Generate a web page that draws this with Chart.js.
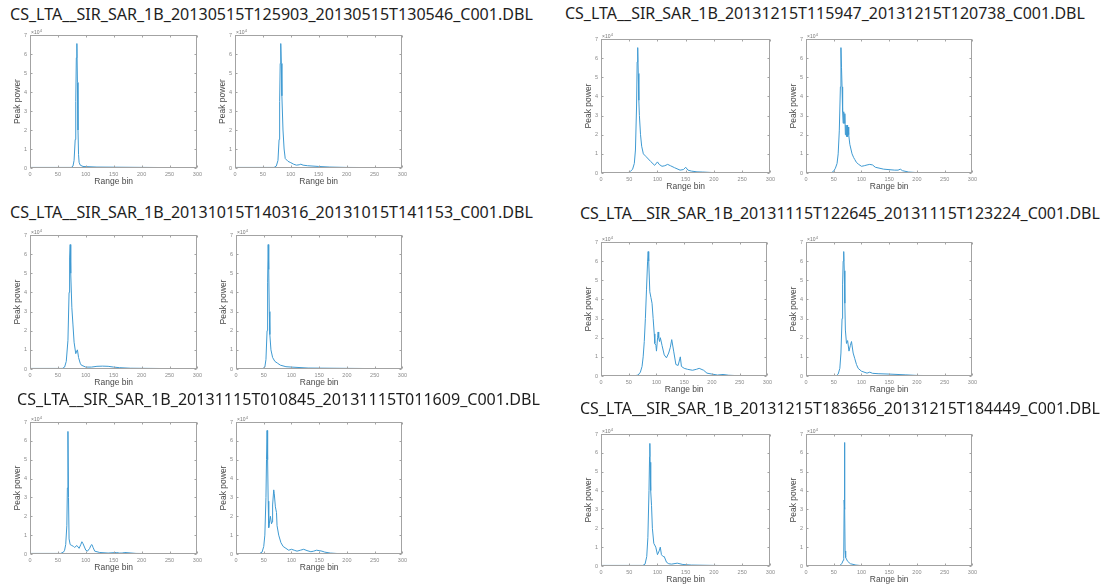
<!DOCTYPE html>
<html>
<head>
<meta charset="utf-8">
<script src="https://cdn.jsdelivr.net/npm/chart.js@4"></script>
<style>
  html, body { margin: 0; padding: 0; background: #fff; }
  #page { position: relative; width: 1104px; height: 588px; overflow: hidden; }
  canvas { position: absolute; }
  .titulo { position: absolute; white-space: nowrap; font-family: "Noto Sans", "Open Sans", sans-serif; color: #1e1e1e; line-height: 1; }
</style>
</head>
<body>
<div id="page"></div>
<script>
// ---- ticks ----
const xTicks = [0, 50, 100, 150, 200, 250, 300];
const yTicks = [0, 1, 2, 3, 4, 5, 6, 7];

// ---- titles ----
const titulos = [
  'CS_LTA__SIR_SAR_1B_20130515T125903_20130515T130546_C001.DBL',
  'CS_LTA__SIR_SAR_1B_20131215T115947_20131215T120738_C001.DBL',
  'CS_LTA__SIR_SAR_1B_20131015T140316_20131015T141153_C001.DBL',
  'CS_LTA__SIR_SAR_1B_20131115T122645_20131115T123224_C001.DBL',
  'CS_LTA__SIR_SAR_1B_20131115T010845_20131115T011609_C001.DBL',
  'CS_LTA__SIR_SAR_1B_20131215T183656_20131215T184449_C001.DBL'
];

// ---- waveforms (range bin / peak power x10^4) ----
const binA1 = [1, 74, 77, 79, 81, 82, 83, 84, 85, 86, 87, 88, 90, 95, 120, 256];
const powA1 = [0.03, 0.03, 0.1, 0.4, 1.5, 3.5, 5.8, 6.55, 4.5, 2, 0.7, 0.3, 0.15, 0.08, 0.05, 0.02];

const binA2 = [1, 70, 74, 77, 79, 80, 81, 82, 83, 84, 86, 88, 90, 95, 100, 105, 110, 115, 118, 122, 130, 150, 170, 200, 256];
const powA2 = [0.03, 0.03, 0.1, 0.4, 1.5, 3.5, 5.5, 6.55, 5.5, 3.8, 2, 1, 0.5, 0.35, 0.28, 0.2, 0.15, 0.17, 0.2, 0.15, 0.12, 0.08, 0.05, 0.03, 0.02];

const binB1 = [1, 48, 52, 56, 59, 61, 63, 64, 65, 66, 67, 68, 70, 72, 75, 80, 88, 95, 100, 103, 108, 113, 118, 123, 130, 140, 146, 150, 154, 160, 170, 180, 200, 256];
const powB1 = [0.02, 0.02, 0.08, 0.2, 0.5, 1.2, 3.5, 5.8, 6.55, 5.2, 3.8, 3.0, 2.0, 1.4, 1.0, 0.85, 0.6, 0.4, 0.58, 0.45, 0.35, 0.38, 0.45, 0.38, 0.28, 0.15, 0.18, 0.3, 0.15, 0.1, 0.06, 0.05, 0.02, 0.01];

const binB2 = [1, 46, 50, 53, 56, 58, 60, 62, 63, 64, 65, 66, 67, 68, 69, 70, 71, 72, 73, 74, 75, 76, 77, 79, 83, 86, 88, 91, 95, 100, 105, 110, 115, 120, 125, 140, 160, 166, 170, 174, 185, 200, 256];
const powB2 = [0.02, 0.02, 0.1, 0.25, 0.5, 1.0, 2.2, 4.5, 6.55, 5.5, 4.5, 3.2, 2.6, 3.2, 2.6, 3.1, 2.0, 2.5, 1.9, 2.5, 1.9, 2.4, 2.0, 1.5, 1.0, 0.8, 0.7, 0.55, 0.45, 0.35, 0.38, 0.42, 0.45, 0.42, 0.3, 0.2, 0.15, 0.15, 0.2, 0.12, 0.05, 0.02, 0.01];

const binC1 = [1, 58, 62, 65, 68, 70, 71, 72, 73, 75, 77, 79, 82, 84, 85, 87, 90, 92, 100, 110, 120, 130, 140, 150, 160, 180, 256];
const powC1 = [0.03, 0.03, 0.1, 0.4, 1.5, 4.0, 5.8, 6.5, 5.0, 3.2, 2.3, 1.4, 0.8, 0.95, 1.0, 0.6, 0.3, 0.2, 0.1, 0.1, 0.14, 0.15, 0.14, 0.1, 0.07, 0.04, 0.02];

const binC2 = [1, 48, 52, 54, 56, 57, 58, 59, 60, 61, 63, 66, 70, 75, 80, 90, 100, 130, 256];
const powC2 = [0.02, 0.02, 0.1, 0.5, 2.0, 4.5, 6.5, 5.2, 3.0, 1.8, 1.0, 0.6, 0.4, 0.3, 0.2, 0.12, 0.1, 0.05, 0.02];

const binD1 = [1, 62, 67, 71, 74, 76, 78, 80, 82, 84, 85, 86, 88, 90, 92, 94, 96, 97, 99, 100, 102, 103, 104, 105.5, 107, 110, 114, 118, 122, 125, 127.5, 131, 135, 139, 143, 145, 150, 156, 165, 172, 177, 185, 191, 200, 210, 220, 230, 245, 256];
const powD1 = [0.02, 0.02, 0.05, 0.2, 0.5, 1.0, 1.8, 3.0, 4.5, 6.0, 6.5, 6.0, 4.4, 4.1, 3.8, 3.0, 2.2, 1.7, 1.6, 1.3, 2.0, 2.3, 2.0, 1.8, 2.0, 1.6, 1.1, 0.95, 1.2, 1.5, 1.9, 1.3, 0.6, 0.55, 1.0, 0.5, 0.4, 0.35, 0.3, 0.35, 0.4, 0.3, 0.15, 0.1, 0.05, 0.08, 0.04, 0.02, 0.01];

const binD2 = [1, 55, 58, 61, 63, 65, 66, 67, 68, 69, 70, 71, 73, 75, 77.5, 80, 82, 85, 88, 91, 94, 100, 110, 115, 120, 130, 150, 180, 200, 256];
const powD2 = [0.02, 0.02, 0.1, 0.4, 1.2, 3.0, 4.8, 6.0, 6.5, 5.5, 3.8, 2.4, 1.7, 1.85, 1.3, 1.6, 1.8, 1.2, 0.9, 0.6, 0.4, 0.25, 0.15, 0.2, 0.14, 0.12, 0.1, 0.06, 0.03, 0.01];

const binE1 = [1, 55, 60, 62, 64, 66, 67, 68, 69, 70, 72, 75, 78, 80, 84, 88, 91, 93, 95, 100, 103, 107, 109, 111, 113, 116, 125, 140, 155, 160, 165, 170, 190, 256];
const powE1 = [0.03, 0.03, 0.1, 0.2, 0.5, 1.5, 3.5, 6.5, 3.0, 0.8, 0.5, 0.45, 0.4, 0.35, 0.45, 0.3, 0.5, 0.65, 0.55, 0.2, 0.15, 0.3, 0.45, 0.5, 0.35, 0.15, 0.08, 0.05, 0.08, 0.05, 0.05, 0.08, 0.03, 0.01];

const binE2 = [1, 42, 47, 50, 52, 54, 55, 56, 57, 58, 59, 60, 62, 64, 65, 66, 68, 69, 71, 73, 74, 77, 81, 85, 90, 95, 100, 105, 110, 116, 122, 128, 135, 140, 145, 150, 155, 160, 170, 185, 256];
const powE2 = [0.02, 0.02, 0.1, 0.4, 1.0, 3.0, 5.0, 6.55, 5.0, 2.8, 1.4, 1.6, 2.0, 1.6, 1.7, 2.6, 3.4, 3.2, 2.5, 2.2, 1.5, 1.0, 0.6, 0.4, 0.3, 0.2, 0.25, 0.2, 0.15, 0.2, 0.25, 0.18, 0.12, 0.15, 0.2, 0.18, 0.15, 0.1, 0.05, 0.02, 0.01];

const binF1 = [1, 74, 78, 81, 83, 85, 86, 86.5, 87, 88, 89.5, 91, 93.5, 97, 100, 103, 105, 107, 110, 112, 116, 120, 125, 135, 145, 160, 200, 256];
const powF1 = [0.03, 0.03, 0.1, 0.5, 1.5, 4.0, 5.8, 6.5, 5.5, 4.0, 3.2, 2.0, 1.2, 1.0, 0.6, 0.8, 1.0, 0.6, 0.5, 0.5, 0.2, 0.12, 0.1, 0.15, 0.08, 0.05, 0.03, 0.01];

const binF2 = [1, 60, 62, 65, 67, 68, 68.8, 69.4, 70, 70.5, 71, 72, 75, 80, 90, 100, 256];
const powF2 = [0.02, 0.02, 0.05, 0.15, 0.3, 0.4, 3.5, 6.55, 3.0, 0.8, 0.5, 0.45, 0.25, 0.12, 0.05, 0.02, 0.01];

// ---- panel layout ----
const paineis = [
  { bins: binA1, pow: powA1, x: 30,  y: 35,  w: 169, h: 133 },
  { bins: binA2, pow: powA2, x: 235, y: 35,  w: 169, h: 133 },
  { bins: binB1, pow: powB1, x: 601, y: 39,  w: 171, h: 134 },
  { bins: binB2, pow: powB2, x: 806, y: 39,  w: 168, h: 134 },
  { bins: binC1, pow: powC1, x: 30,  y: 235, w: 169, h: 134 },
  { bins: binC2, pow: powC2, x: 236, y: 235, w: 168, h: 134 },
  { bins: binD1, pow: powD1, x: 601, y: 242, w: 168, h: 134 },
  { bins: binD2, pow: powD2, x: 806, y: 242, w: 168, h: 134 },
  { bins: binE1, pow: powE1, x: 30,  y: 422, w: 169, h: 132 },
  { bins: binE2, pow: powE2, x: 236, y: 422, w: 168, h: 132 },
  { bins: binF1, pow: powF1, x: 601, y: 434, w: 171, h: 132 },
  { bins: binF2, pow: powF2, x: 806, y: 434, w: 168, h: 132 }
];

const posTitulos = [
  { x: 10,  y: 15,  w: 523 },
  { x: 565, y: 15,  w: 520 },
  { x: 10,  y: 213, w: 523 },
  { x: 580, y: 215, w: 520 },
  { x: 17,  y: 400, w: 523 },
  { x: 580, y: 410, w: 520 }
];

const page = document.getElementById('page');
const PAD_L = 3, Y_W = 21, PAD_T = 10, PAD_R = 6, X_H = 22, PAD_B = 2;

// caixa estilo MATLAB com ticks para dentro
const caixaMatlab = {
  id: 'caixaMatlab',
  afterDraw(chart) {
    const { ctx, chartArea: a, scales: { x, y } } = chart;
    const l = Math.round(a.left) + 0.5, r = Math.round(a.right) - 0.5;
    const t = Math.round(a.top) + 0.5, b = Math.round(a.bottom) - 0.5;
    ctx.save();
    ctx.strokeStyle = '#a3a3a3';
    ctx.lineWidth = 1;
    ctx.strokeRect(l, t, r - l, b - t);
    ctx.beginPath();
    xTicks.forEach(v => {
      const px = Math.round(x.getPixelForValue(v)) + 0.5;
      ctx.moveTo(px, b); ctx.lineTo(px, b - 2);
      ctx.moveTo(px, t); ctx.lineTo(px, t + 2);
    });
    yTicks.forEach(v => {
      const py = Math.round(y.getPixelForValue(v)) + 0.5;
      ctx.moveTo(l, py); ctx.lineTo(l + 2, py);
      ctx.moveTo(r, py); ctx.lineTo(r - 2, py);
    });
    ctx.stroke();
    // x10^4
    ctx.fillStyle = '#777';
    ctx.font = '5px "Liberation Sans", sans-serif';
    ctx.textBaseline = 'alphabetic';
    ctx.fillText('\u00d710', a.left + 1, a.top - 1);
    const w = ctx.measureText('\u00d710').width;
    ctx.font = '4px "Liberation Sans", sans-serif';
    ctx.fillText('4', a.left + 1 + w + 0.3, a.top - 3);
    ctx.restore();
  }
};

paineis.forEach(p => {
  const cv = document.createElement('canvas');
  const cw = p.w + PAD_L + Y_W + PAD_R;
  const ch = p.h + PAD_T + X_H + PAD_B;
  cv.width = cw; cv.height = ch;
  cv.style.left = (p.x - PAD_L - Y_W) + 'px';
  cv.style.top = (p.y - PAD_T) + 'px';
  cv.style.width = cw + 'px'; cv.style.height = ch + 'px';
  page.appendChild(cv);

  new Chart(cv, {
    type: 'line',
    data: {
      datasets: [{
        data: p.bins.map((b, i) => ({ x: b, y: p.pow[i] })),
        borderColor: '#3f9ad2',
        borderWidth: 1,
        pointRadius: 0,
        tension: 0,
        fill: false
      }]
    },
    options: {
      responsive: false,
      animation: false,
      maintainAspectRatio: false,
      layout: { padding: { left: PAD_L, top: PAD_T, right: PAD_R, bottom: PAD_B } },
      plugins: { legend: { display: false }, tooltip: { enabled: false } },
      scales: {
        x: {
          type: 'linear', min: 0, max: 300,
          afterBuildTicks: s => { s.ticks = xTicks.map(v => ({ value: v })); },
          afterFit: s => { s.height = X_H; },
          grid: { display: false, drawTicks: false },
          border: { display: false },
          ticks: { padding: 3, maxRotation: 0, autoSkip: false, color: '#8a8a8a', font: { size: 5.5, family: '"Liberation Sans", sans-serif' } },
          title: { display: true, text: 'Range bin', color: '#4a4a4a', padding: { top: 0, bottom: 3 }, font: { size: 8.5, family: '"Liberation Sans", sans-serif' } }
        },
        y: {
          type: 'linear', min: 0, max: 7,
          afterBuildTicks: s => { s.ticks = yTicks.map(v => ({ value: v })); },
          afterFit: s => { s.width = Y_W; },
          grid: { display: false, drawTicks: false },
          border: { display: false },
          ticks: { padding: 3, autoSkip: false, color: '#8a8a8a', font: { size: 5.5, family: '"Liberation Sans", sans-serif' } },
          title: { display: true, text: 'Peak power', color: '#4a4a4a', padding: { top: 4, bottom: 0 }, font: { size: 8.5, family: '"Liberation Sans", sans-serif' } }
        }
      }
    },
    plugins: [caixaMatlab]
  });
});

// titulos ajustados a largura da imagem
const medidor = document.createElement('canvas').getContext('2d');
titulos.forEach((txt, i) => {
  const pos = posTitulos[i];
  medidor.font = '16px "Noto Sans"';
  const fs = 16 * pos.w / medidor.measureText(txt).width;
  const d = document.createElement('div');
  d.className = 'titulo';
  d.textContent = txt;
  d.style.fontSize = fs.toFixed(2) + 'px';
  d.style.left = pos.x + 'px';
  d.style.top = (pos.y - fs * 0.55) + 'px';
  page.appendChild(d);
});
</script>
</body>
</html>
